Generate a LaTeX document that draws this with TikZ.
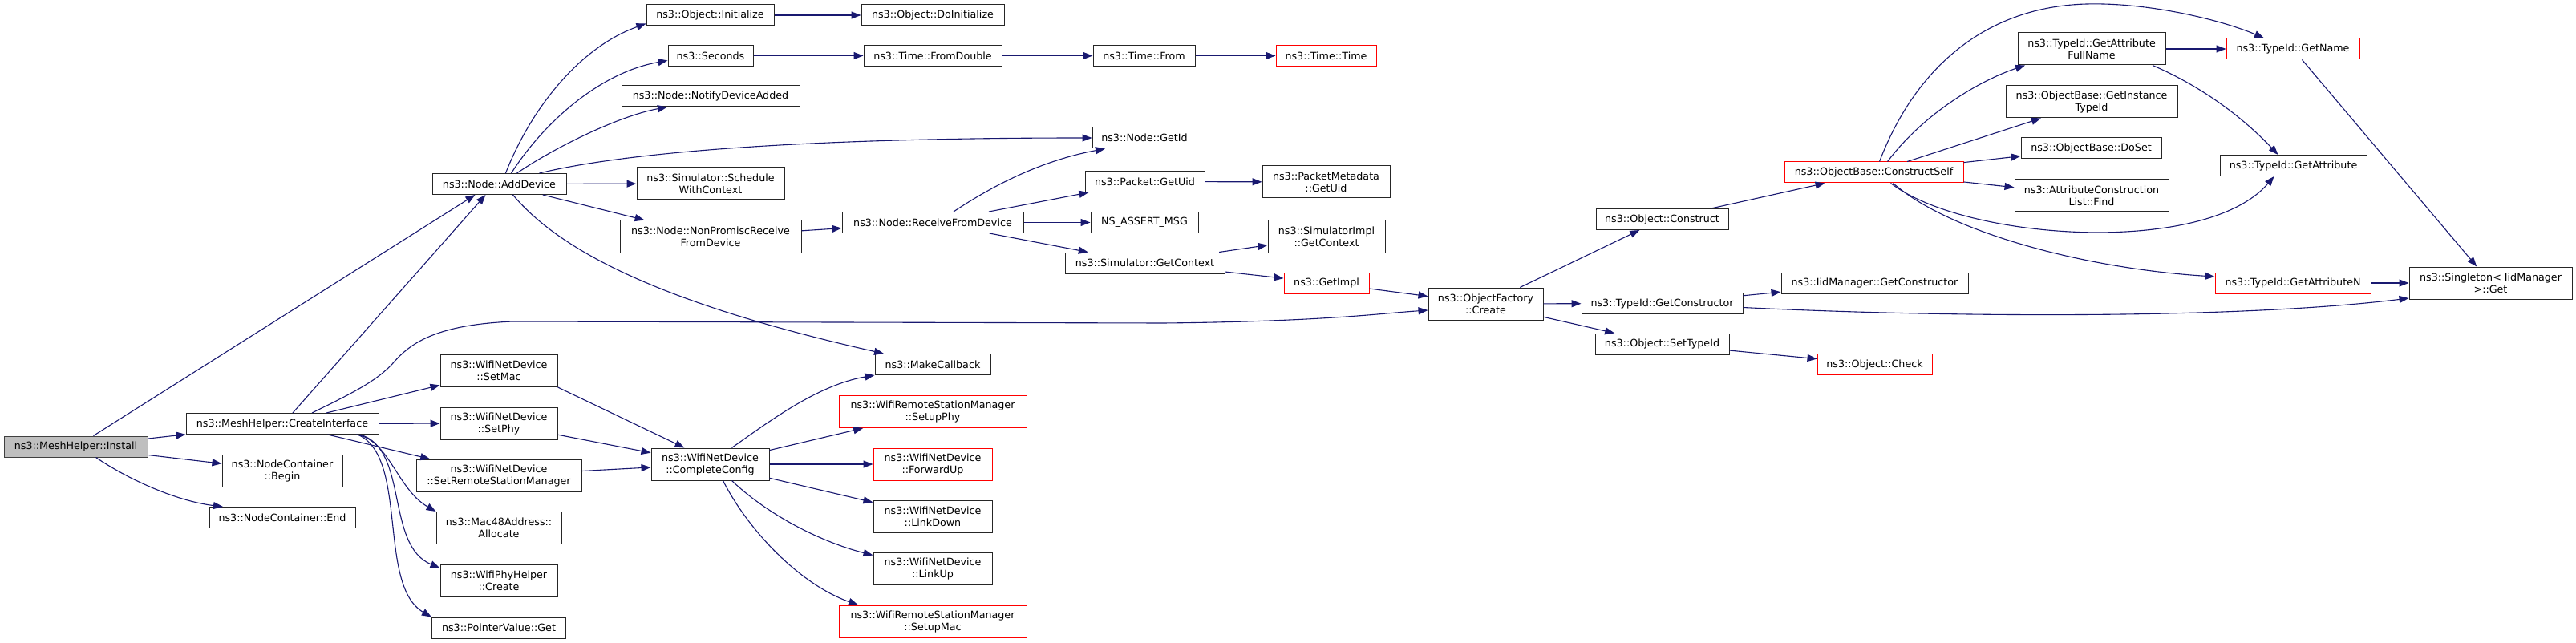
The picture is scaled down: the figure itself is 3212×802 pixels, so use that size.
\documentclass[tikz,border=0pt]{standalone}
\usepackage{fontspec}
\setmainfont{DejaVu Sans}
\usepackage{xcolor}
\usepackage{tikz}
\usetikzlibrary{arrows.meta}
\definecolor{edgeblue}{HTML}{191970}
\definecolor{rootgray}{HTML}{BFBFBF}
\definecolor{linkred}{HTML}{FF0000}

\begin{document}
\begin{tikzpicture}[x=1pt, y=-1pt,
    fn/.style={rectangle, draw=black!85, fill=white, line width=1pt, inner sep=0pt,
        align=center, font=\fontsize{12.7}{15}\selectfont, minimum height=26pt},
    fn2/.style={fn, minimum height=40pt},
    redfn/.style={fn, draw=linkred},
    redfn2/.style={fn2, draw=linkred},
    rootfn/.style={fn, fill=rootgray, draw=black!75},
    call/.style={draw=edgeblue, line width=1.1pt, -{Triangle[length=12pt, width=9pt]}}]

    \useasboundingbox (0,0) rectangle (3212,802);

    % Root and helper calls
    \node[rootfn, minimum width=179pt] (install) at (94.5,557) {ns3::MeshHelper::Install};
    \node[fn, minimum width=240pt] (createiface) at (352,528.5) {ns3::MeshHelper::CreateInterface};
    \node[fn2, minimum width=150pt] (ncbegin) at (352,587) {ns3::NodeContainer\\::Begin};
    \node[fn, minimum width=182pt] (ncend) at (352,645.5) {ns3::NodeContainer::End};

    % Second column
    \node[fn, minimum width=167pt] (adddevice) at (622.5,229.5) {ns3::Node::AddDevice};
    \node[fn2, minimum width=146pt] (setmac) at (622,462.5) {ns3::WifiNetDevice\\::SetMac};
    \node[fn2, minimum width=146pt] (setphy) at (622,528) {ns3::WifiNetDevice\\::SetPhy};
    \node[fn2, minimum width=206pt] (setrsm) at (622,593) {ns3::WifiNetDevice\\::SetRemoteStationManager};
    \node[fn2, minimum width=156pt] (allocate) at (622,658.5) {ns3::Mac48Address::\\Allocate};
    \node[fn2, minimum width=146pt] (phycreate) at (622,724) {ns3::WifiPhyHelper\\::Create};
    \node[fn, minimum width=167pt] (ptrget) at (622,783) {ns3::PointerValue::Get};

    % Third column
    \node[fn, minimum width=159pt] (initialize) at (885.5,19) {ns3::Object::Initialize};
    \node[fn, minimum width=106pt] (seconds) at (886,69.5) {ns3::Seconds};
    \node[fn, minimum width=222pt] (notify) at (886,120) {ns3::Node::NotifyDeviceAdded};
    \node[fn2, minimum width=184pt] (schedule) at (886,229) {ns3::Simulator::Schedule\\WithContext};
    \node[fn2, minimum width=226pt] (nonpromisc) at (886,295) {ns3::Node::NonPromiscReceive\\FromDevice};
    \node[fn2, minimum width=147pt] (config) at (885.5,579) {ns3::WifiNetDevice\\::CompleteConfig};

    % Fourth column
    \node[fn, minimum width=178pt] (doinit) at (1163,19) {ns3::Object::DoInitialize};
    \node[fn, minimum width=172pt] (fromdouble) at (1163,69.5) {ns3::Time::FromDouble};
    \node[fn, minimum width=226pt] (recv) at (1163,277.5) {ns3::Node::ReceiveFromDevice};
    \node[fn, minimum width=144pt] (makecb) at (1163,454.5) {ns3::MakeCallback};
    \node[redfn2, minimum width=234pt] (setupphy) at (1163,513.5) {ns3::WifiRemoteStationManager\\::SetupPhy};
    \node[redfn2, minimum width=148pt] (fwdup) at (1163,579) {ns3::WifiNetDevice\\::ForwardUp};
    \node[fn2, minimum width=148pt] (linkdown) at (1163,644) {ns3::WifiNetDevice\\::LinkDown};
    \node[fn2, minimum width=148pt] (linkup) at (1163,709) {ns3::WifiNetDevice\\::LinkUp};
    \node[redfn2, minimum width=234pt] (setupmac) at (1163,775) {ns3::WifiRemoteStationManager\\::SetupMac};

    % Fifth and sixth columns
    \node[fn, minimum width=127pt] (timefrom) at (1426.5,69.5) {ns3::Time::From};
    \node[fn, minimum width=130pt] (getid) at (1427,172) {ns3::Node::GetId};
    \node[fn, minimum width=149pt] (pktuid) at (1427.5,226.5) {ns3::Packet::GetUid};
    \node[fn, minimum width=134pt] (assertmsg) at (1427,277.5) {NS\_ASSERT\_MSG};
    \node[fn, minimum width=199pt] (simctx) at (1427.5,328) {ns3::Simulator::GetContext};
    \node[redfn, minimum width=125pt] (timetime) at (1653.5,69.5) {ns3::Time::Time};
    \node[fn2, minimum width=159pt] (metauid) at (1653.5,227) {ns3::PacketMetadata\\::GetUid};
    \node[fn2, minimum width=146pt] (implctx) at (1654,295) {ns3::SimulatorImpl\\::GetContext};
    \node[redfn, minimum width=106pt] (getimpl) at (1654,353) {ns3::GetImpl};

    % Object factory
    \node[fn2, minimum width=143pt] (factory) at (1852.5,379) {ns3::ObjectFactory\\::Create};
    \node[fn, minimum width=165pt] (construct) at (2072.5,273.5) {ns3::Object::Construct};
    \node[fn, minimum width=201pt] (getctor) at (2072.5,378.5) {ns3::TypeId::GetConstructor};
    \node[fn, minimum width=167pt] (settypeid) at (2072.5,429) {ns3::Object::SetTypeId};
    \node[redfn, minimum width=223pt] (cself) at (2336.5,215) {ns3::ObjectBase::ConstructSelf};
    \node[fn, minimum width=233pt] (iidctor) at (2337.5,353) {ns3::IidManager::GetConstructor};
    \node[redfn, minimum width=143pt] (check) at (2337.5,454.5) {ns3::Object::Check};

    % TypeId calls
    \node[fn2, minimum width=184pt] (fullname) at (2608,61) {ns3::TypeId::GetAttribute\\FullName};
    \node[fn2, minimum width=214pt] (insttid) at (2608,127) {ns3::ObjectBase::GetInstance\\TypeId};
    \node[fn, minimum width=175pt] (doset) at (2607.5,185) {ns3::ObjectBase::DoSet};
    \node[fn2, minimum width=192pt] (find) at (2608,244) {ns3::AttributeConstruction\\List::Find};
    \node[redfn, minimum width=166pt] (getname) at (2859,61) {ns3::TypeId::GetName};
    \node[fn, minimum width=183pt] (getattr) at (2859.5,206.5) {ns3::TypeId::GetAttribute};
    \node[redfn, minimum width=194pt] (getattrn) at (2859,353) {ns3::TypeId::GetAttributeN};
    \node[fn2, minimum width=203pt] (singleton) at (3105.5,353) {ns3::Singleton< IidManager\\>::Get};

    % Install
    \draw[call] ([xshift=22pt]install.north) -- ([xshift=-30pt]adddevice.south);
    \draw[call] (install) -- (createiface);
    \draw[call] (install) -- (ncbegin);
    \draw[call] ([xshift=25pt]install.south) .. controls (160,598) and (220,625) .. ([xshift=-74pt]ncend.north);

    % CreateInterface
    \draw[call] ([xshift=13pt]createiface.north) -- ([xshift=-17pt]adddevice.south);
    \draw[call] ([xshift=37pt]createiface.north) .. controls (440,490) and (470,475) .. (490,453)
        .. controls (510,430) and (540,405) .. (640,401) -- (1450,403)
        .. controls (1650,401) and (1720,391) .. ([yshift=-8pt]factory.west);
    \draw[call] (createiface) -- (setmac);
    \draw[call] (createiface) -- (setphy);
    \draw[call] (createiface) -- (setrsm);
    \draw[call] ([xshift=92pt]createiface.south) .. controls (485,548) and (495,610) .. (allocate.north west);
    \draw[call] ([xshift=97pt]createiface.south) .. controls (510,560) and (480,680) .. ([yshift=-5pt]phycreate.north west);
    \draw[call] ([xshift=94pt]createiface.south) .. controls (510,570) and (470,730) .. (ptrget.north west);

    % AddDevice
    \draw[call] ([xshift=8pt]adddevice.north) .. controls (660,140) and (720,60) .. ([yshift=3pt]initialize.south west);
    \draw[call] ([xshift=15pt]adddevice.north) .. controls (680,150) and (750,90) .. ([yshift=-6pt]seconds.west);
    \draw[call] ([xshift=22pt]adddevice.north) .. controls (690,185) and (770,145) .. ([xshift=-54pt]notify.south);
    \draw[call] ([xshift=50pt]adddevice.north) .. controls (780,190) and (1000,172) .. (getid.west);
    \draw[call] (adddevice) -- (schedule);
    \draw[call] (adddevice) -- (nonpromisc);
    \draw[call] ([xshift=17pt]adddevice.south) .. controls (700,315) and (830,380) .. ([xshift=-61pt]makecb.north);

    % Time and receive chains
    \draw[call] (initialize) -- (doinit);
    \draw[call] (seconds) -- (fromdouble);
    \draw[call] (fromdouble) -- (timefrom);
    \draw[call] (timefrom) -- (timetime);
    \draw[call] (nonpromisc) -- (recv);
    \draw[call] ([xshift=26pt]recv.north) .. controls (1240,230) and (1300,200) .. ([xshift=-49pt]getid.south);
    \draw[call] (recv) -- (pktuid);
    \draw[call] (recv) -- (assertmsg);
    \draw[call] (recv) -- (simctx);
    \draw[call] (pktuid) -- (metauid);
    \draw[call] (simctx) -- (implctx);
    \draw[call] (simctx) -- (getimpl);
    \draw[call] (getimpl) -- (factory);

    % CompleteConfig
    \draw[call] (setmac.south east) -- ([xshift=-32pt]config.north);
    \draw[call] (setphy) -- (config);
    \draw[call] (setrsm) -- (config);
    \draw[call] ([xshift=27pt]config.north) .. controls (960,525) and (1020,480) .. (makecb.south west);
    \draw[call] (config) -- (setupphy);
    \draw[call] (config) -- (fwdup);
    \draw[call] (config) -- (linkdown);
    \draw[call] ([xshift=27pt]config.south) .. controls (955,640) and (1020,675) .. ([yshift=-4pt]linkup.north west);
    \draw[call] ([xshift=16pt]config.south) .. controls (935,665) and (1000,730) .. ([xshift=-93pt]setupmac.north);

    % ObjectFactory
    \draw[call] (factory) -- (construct);
    \draw[call] (factory) -- (getctor);
    \draw[call] (factory) -- (settypeid);
    \draw[call] (construct) -- (cself);
    \draw[call] (getctor) -- (iidctor);
    \draw[call] ([yshift=-5pt]getctor.east) .. controls (2450,397) and (2800,397) .. ([yshift=-19pt]singleton.west);
    \draw[call] (settypeid) -- (check);

    % ConstructSelf
    \draw[call] ([xshift=7pt]cself.north) .. controls (2390,80) and (2480,8) .. (2602,5)
        .. controls (2680,3) and (2770,25) .. ([xshift=-36pt]getname.north);
    \draw[call] ([xshift=17pt]cself.north) .. controls (2400,140) and (2470,100) .. ([xshift=-83pt]fullname.south);
    \draw[call] (cself) -- (insttid);
    \draw[call] (cself) -- (doset);
    \draw[call] (cself) -- (find);
    \draw[call] ([xshift=21pt]cself.south) .. controls (2450,300) and (2750,320) .. ([xshift=-24pt]getattr.south);
    \draw[call] ([xshift=24pt]cself.south) .. controls (2430,290) and (2600,335) .. ([yshift=8pt]getattrn.west);
    \draw[call] (fullname) -- (getname);
    \draw[call] ([xshift=76pt]fullname.south) .. controls (2750,110) and (2800,150) .. ([xshift=-19pt]getattr.north);
    \draw[call] (getname) -- (singleton);
    \draw[call] (getattrn) -- (singleton);

\end{tikzpicture}
\end{document}
